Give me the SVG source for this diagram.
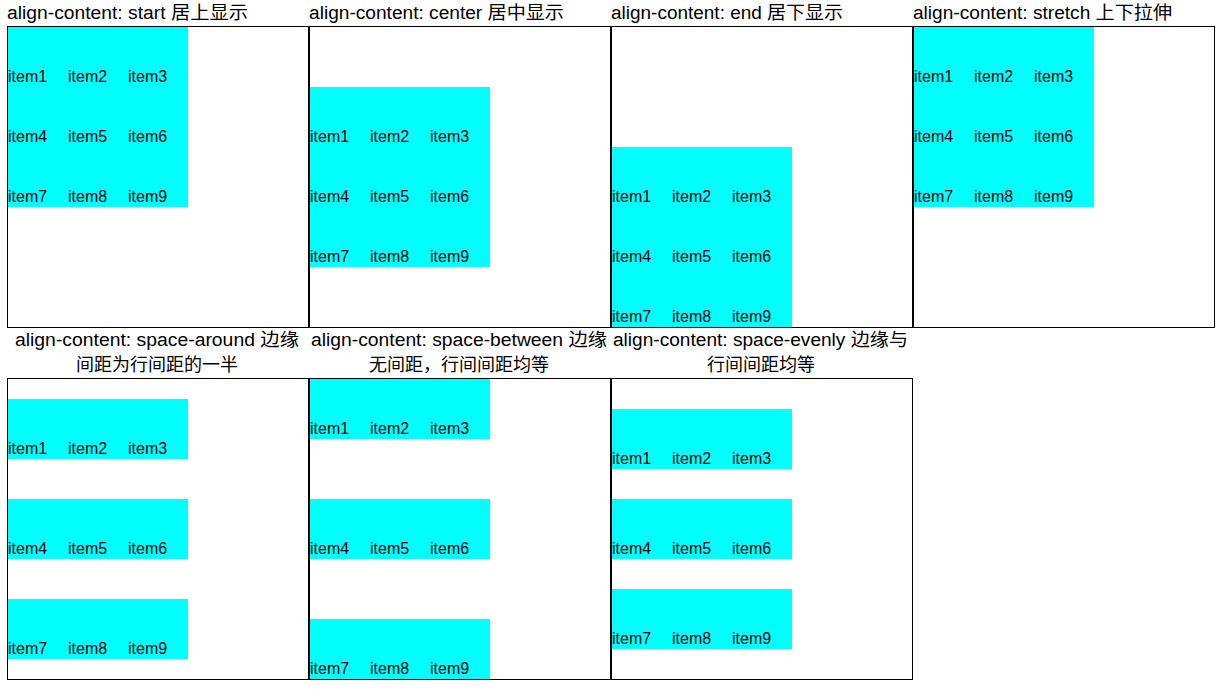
<svg xmlns="http://www.w3.org/2000/svg" width="1226" height="696" viewBox="0 0 1226 696">
<style>
text{font-family:"Liberation Sans","Noto Sans CJK SC",sans-serif;font-size:16px;fill:#000}
.t{font-size:18px}
.box{fill:#fff;stroke:#000;stroke-width:1}
.it{fill:#00ffff}
.c{text-anchor:middle}
</style>
<rect width="1226" height="696" fill="#fff"/>

<g id="panel-start">
<text class="t" x="7" y="19" textLength="241" lengthAdjust="spacingAndGlyphs">align-content: start 居上显示</text>
<rect class="box" x="7.5" y="26.5" width="301" height="301"/>
<rect class="it" x="8" y="27" width="180" height="180"/>
<text x="8" y="82">item1</text><text x="68" y="82">item2</text><text x="128" y="82">item3</text>
<text x="8" y="142">item4</text><text x="68" y="142">item5</text><text x="128" y="142">item6</text>
<text x="8" y="202">item7</text><text x="68" y="202">item8</text><text x="128" y="202">item9</text>
</g>

<g id="panel-center">
<text class="t" x="309" y="19" textLength="255" lengthAdjust="spacingAndGlyphs">align-content: center 居中显示</text>
<rect class="box" x="309.5" y="26.5" width="301" height="301"/>
<rect class="it" x="310" y="87" width="180" height="180"/>
<text x="310" y="142">item1</text><text x="370" y="142">item2</text><text x="430" y="142">item3</text>
<text x="310" y="202">item4</text><text x="370" y="202">item5</text><text x="430" y="202">item6</text>
<text x="310" y="262">item7</text><text x="370" y="262">item8</text><text x="430" y="262">item9</text>
</g>

<g id="panel-end">
<text class="t" x="611" y="19" textLength="232" lengthAdjust="spacingAndGlyphs">align-content: end 居下显示</text>
<rect class="box" x="611.5" y="26.5" width="301" height="301"/>
<rect class="it" x="612" y="147" width="180" height="180"/>
<text x="612" y="202">item1</text><text x="672" y="202">item2</text><text x="732" y="202">item3</text>
<text x="612" y="262">item4</text><text x="672" y="262">item5</text><text x="732" y="262">item6</text>
<text x="612" y="322">item7</text><text x="672" y="322">item8</text><text x="732" y="322">item9</text>
</g>

<g id="panel-stretch">
<text class="t" x="913" y="19" textLength="259" lengthAdjust="spacingAndGlyphs">align-content: stretch 上下拉伸</text>
<rect class="box" x="913.5" y="26.5" width="301" height="301"/>
<rect class="it" x="914" y="27" width="180" height="180"/>
<text x="914" y="82">item1</text><text x="974" y="82">item2</text><text x="1034" y="82">item3</text>
<text x="914" y="142">item4</text><text x="974" y="142">item5</text><text x="1034" y="142">item6</text>
<text x="914" y="202">item7</text><text x="974" y="202">item8</text><text x="1034" y="202">item9</text>
</g>

<g id="panel-space-around">
<text class="t c" x="157" y="346" textLength="284" lengthAdjust="spacingAndGlyphs">align-content: space-around 边缘</text>
<text class="t c" x="157" y="371">间距为行间距的一半</text>
<rect class="box" x="7.5" y="378.5" width="301" height="301"/>
<rect class="it" x="8" y="399" width="180" height="60"/>
<rect class="it" x="8" y="499" width="180" height="60"/>
<rect class="it" x="8" y="599" width="180" height="60"/>
<text x="8" y="454">item1</text><text x="68" y="454">item2</text><text x="128" y="454">item3</text>
<text x="8" y="554">item4</text><text x="68" y="554">item5</text><text x="128" y="554">item6</text>
<text x="8" y="654">item7</text><text x="68" y="654">item8</text><text x="128" y="654">item9</text>
</g>

<g id="panel-space-between">
<text class="t c" x="459" y="346" textLength="296" lengthAdjust="spacingAndGlyphs">align-content: space-between 边缘</text>
<text class="t c" x="459" y="371">无间距，行间间距均等</text>
<rect class="box" x="309.5" y="378.5" width="301" height="301"/>
<rect class="it" x="310" y="379" width="180" height="60"/>
<rect class="it" x="310" y="499" width="180" height="60"/>
<rect class="it" x="310" y="619" width="180" height="60"/>
<text x="310" y="434">item1</text><text x="370" y="434">item2</text><text x="430" y="434">item3</text>
<text x="310" y="554">item4</text><text x="370" y="554">item5</text><text x="430" y="554">item6</text>
<text x="310" y="674">item7</text><text x="370" y="674">item8</text><text x="430" y="674">item9</text>
</g>

<g id="panel-space-evenly">
<text class="t c" x="760.5" y="346" textLength="295" lengthAdjust="spacingAndGlyphs">align-content: space-evenly 边缘与</text>
<text class="t c" x="761" y="371">行间间距均等</text>
<rect class="box" x="611.5" y="378.5" width="301" height="301"/>
<rect class="it" x="612" y="409" width="180" height="60"/>
<rect class="it" x="612" y="499" width="180" height="60"/>
<rect class="it" x="612" y="589" width="180" height="60"/>
<text x="612" y="464">item1</text><text x="672" y="464">item2</text><text x="732" y="464">item3</text>
<text x="612" y="554">item4</text><text x="672" y="554">item5</text><text x="732" y="554">item6</text>
<text x="612" y="644">item7</text><text x="672" y="644">item8</text><text x="732" y="644">item9</text>
</g>
</svg>
